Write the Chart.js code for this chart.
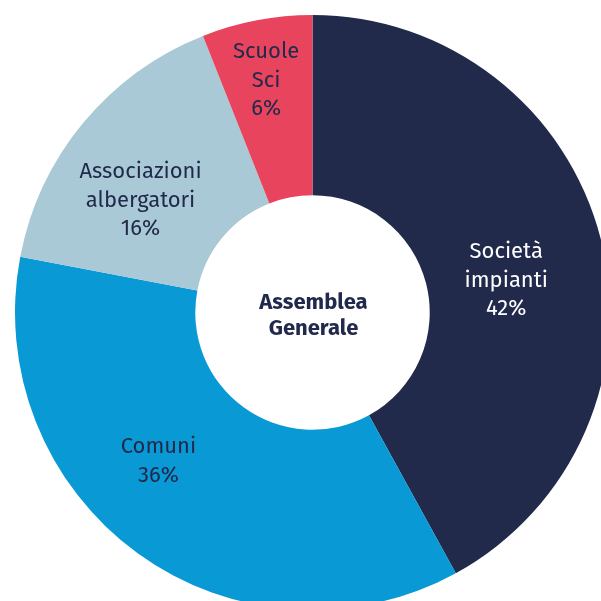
<!DOCTYPE html>
<html>
<head>
<meta charset="utf-8">
<script src="https://cdn.jsdelivr.net/npm/chart.js"></script>
<style>
  html, body { margin: 0; padding: 0; background: #fff; overflow: hidden; }
  #wrap { position: absolute; left: 0; top: 0; width: 625px; height: 625px; }
</style>
</head>
<body>
<div id="wrap"><canvas id="chart" width="625" height="625"></canvas></div>
<script>
// dati del grafico
const categories = [["Società", "impianti"], ["Comuni"], ["Associazioni", "albergatori"], ["Scuole", "Sci"]];
const shares = [42, 36, 16, 6];
const sliceColors = ['#222a4c', '#0999d5', '#a8c9d5', '#e8445e'];
const labelColors = ['#ffffff', '#222a4c', '#222a4c', '#222a4c'];
const centerLines = ["Assemblea", "Generale"];

// piccoli aggiustamenti per la posizione delle etichette (gradi, frazione del raggio)
const labelAngleShift = [5, 10, -6.5, -0.5];
const labelRadiusFactor = [0.66, 0.72, 0.69, 0.795];

const FONT = '"Fira Sans", "Noto Sans", "Open Sans", sans-serif';

const sliceLabels = {
    id: 'sliceLabels',
    afterDatasetsDraw(chart) {
        const ctx = chart.ctx;
        const meta = chart.getDatasetMeta(0);
        ctx.save();
        ctx.textAlign = 'center';
        ctx.textBaseline = 'middle';
        meta.data.forEach((arc, i) => {
            const p = arc.getProps(['x', 'y', 'startAngle', 'endAngle', 'outerRadius'], true);
            const mid = (p.startAngle + p.endAngle) / 2 + labelAngleShift[i] * Math.PI / 180;
            const r = p.outerRadius * labelRadiusFactor[i];
            const cx = p.x + Math.cos(mid) * r;
            const cy = p.y + Math.sin(mid) * r;
            const lines = [...categories[i], shares[i] + '%'];
            const lh = 28.5;
            ctx.fillStyle = labelColors[i];
            ctx.font = '22px ' + FONT;
            lines.forEach((t, k) => {
                ctx.fillText(t, cx, cy + (k - (lines.length - 1) / 2) * lh);
            });
        });
        // testo centrale
        const c = meta.data[0];
        ctx.fillStyle = '#222a4c';
        ctx.font = 'bold 22px ' + FONT;
        centerLines.forEach((t, k) => {
            ctx.fillText(t, c.x + 1, c.y + 3 + (k - (centerLines.length - 1) / 2) * 26);
        });
        ctx.restore();
    }
};

new Chart(document.getElementById('chart').getContext('2d'), {
    type: 'doughnut',
    data: {
        labels: categories.map(l => l.join(' ')),
        datasets: [{
            data: shares,
            backgroundColor: sliceColors,
            borderWidth: 0
        }]
    },
    options: {
        responsive: false,
        animation: false,
        cutout: '39.4%',
        layout: { padding: 15 },
        plugins: {
            legend: { display: false },
            tooltip: { enabled: false }
        }
    },
    plugins: [sliceLabels]
});
</script>
</body>
</html>
